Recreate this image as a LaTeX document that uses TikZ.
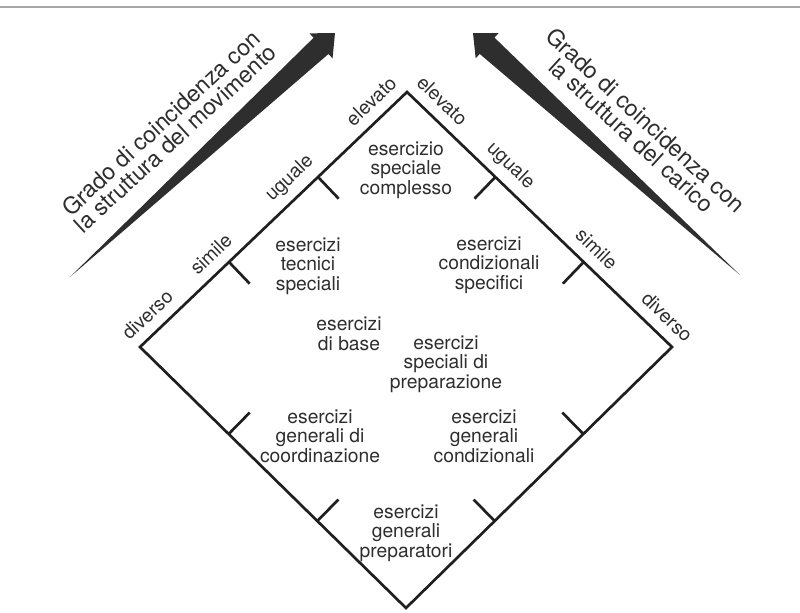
\documentclass[tikz,border=0pt]{standalone}
\usepackage{fontspec}
\setmainfont{TeX Gyre Heros}
\usepackage{tikz}
\usetikzlibrary{calc, positioning}

\begin{document}
\begin{tikzpicture}[x=0.025cm, y=-0.025cm,
    edge/.style={line width=1.9pt, draw=black!88, line join=miter},
    wedge/.style={fill=black!82},
    lbl/.style={font=\fontsize{13.7}{13.9}\selectfont, text=black!82, align=center, inner sep=0pt},
    axis/.style={font=\fontsize{16.4}{14.9}\selectfont, text=black!82, align=center, inner sep=0pt}]
    \useasboundingbox (0,0) rectangle (800,612);
    % page edge of the scan
    \draw[black!35, line width=1pt] (0,7) -- (800,7);

    % diamond
    \coordinate (L) at (140,347);
    \coordinate (T) at (407,92);
    \coordinate (R) at (672,347);
    \coordinate (B) at (406,608);
    \draw[edge] (L) -- (T) -- (R) -- (B) -- cycle;

    % ticks at the thirds of each side
    \draw[edge] ($(L)!1/3!(T)$) -- ($(L)!1/3!(T)!0.75cm!-90:(T)$);
    \draw[edge] ($(L)!2/3!(T)$) -- ($(L)!2/3!(T)!0.75cm!-90:(T)$);
    \draw[edge] ($(T)!1/3!(R)$) -- ($(T)!1/3!(R)!0.75cm!-90:(R)$);
    \draw[edge] ($(T)!2/3!(R)$) -- ($(T)!2/3!(R)!0.75cm!-90:(R)$);
    \draw[edge] ($(R)!1/3!(B)$) -- ($(R)!1/3!(B)!0.75cm!-90:(B)$);
    \draw[edge] ($(R)!2/3!(B)$) -- ($(R)!2/3!(B)!0.75cm!-90:(B)$);
    \draw[edge] ($(B)!1/3!(L)$) -- ($(B)!1/3!(L)!0.75cm!-90:(L)$);
    \draw[edge] ($(B)!2/3!(L)$) -- ($(B)!2/3!(L)!0.75cm!-90:(L)$);

    % scale along the upper left side
    \node[lbl, rotate=43.7] (ldiv) at ($(L)!0.075!(T)!0.46cm!90:(T)$) {diverso};
    \node[lbl, rotate=43.7] (lsim) at ($(L)!0.313!(T)!0.46cm!90:(T)$) {simile};
    \node[lbl, rotate=43.7] (lugu) at ($(L)!0.609!(T)!0.46cm!90:(T)$) {uguale};
    \node[lbl, rotate=43.7] (lele) at ($(L)!0.913!(T)!0.46cm!90:(T)$) {elevato};

    % scale along the upper right side
    \node[lbl, rotate=-43.9] (rele) at ($(T)!0.086!(R)!0.46cm!90:(R)$) {elevato};
    \node[lbl, rotate=-43.9] (rugu) at ($(T)!0.342!(R)!0.46cm!90:(R)$) {uguale};
    \node[lbl, rotate=-43.9] (rsim) at ($(T)!0.668!(R)!0.46cm!90:(R)$) {simile};
    \node[lbl, rotate=-43.9] (rdiv) at ($(T)!0.934!(R)!0.46cm!90:(R)$) {diverso};

    % groups of exercises
    \node[lbl] (compl) at (406,170) {esercizio\\speciale\\complesso};
    \node[lbl] (tecn) at (308,266) {esercizi\\tecnici\\speciali};
    \node[lbl] (cspec) at (489,265) {esercizi\\condizionali\\specifici};
    \node[lbl] (base) at (349,334) {esercizi\\di base};
    \node[lbl] (prep) at (446,364) {esercizi\\speciali di\\preparazione};
    \node[lbl] (coord) at (320,436) {esercizi\\generali di\\coordinazione};
    \node[lbl] (cgen) at (484,436) {esercizi\\generali\\condizionali};
    \node[lbl] (gprep) at (406,533) {esercizi\\generali\\preparatori};

    % wedge arrows
    \coordinate (mtail) at (70,277);
    \coordinate (mtip) at (335,33);
    \coordinate (mbase) at ($(mtip)!0.475cm!(mtail)$);
    \fill[wedge] (mtail) -- ($(mbase)!0.275cm!90:(mtip)$) -- ($(mbase)!0.425cm!90:(mtip)$)
        -- (mtip) -- ($(mbase)!0.425cm!-90:(mtip)$) -- ($(mbase)!0.275cm!-90:(mtip)$) -- cycle;
    \coordinate (ctail) at (740,275);
    \coordinate (ctip) at (473,33);
    \coordinate (cbase) at ($(ctip)!0.475cm!(ctail)$);
    \fill[wedge] (ctail) -- ($(cbase)!0.275cm!90:(ctip)$) -- ($(cbase)!0.425cm!90:(ctip)$)
        -- (ctip) -- ($(cbase)!0.425cm!-90:(ctip)$) -- ($(cbase)!0.275cm!-90:(ctip)$) -- cycle;

    \node[axis, rotate=42.7] (mov) at (168,130.5) {Grado di coincidenza con\\la struttura del movimento};
    \node[axis, rotate=-42.5] (car) at (638.7,127.6) {Grado di coincidenza con\\la struttura del carico};
\end{tikzpicture}
\end{document}
